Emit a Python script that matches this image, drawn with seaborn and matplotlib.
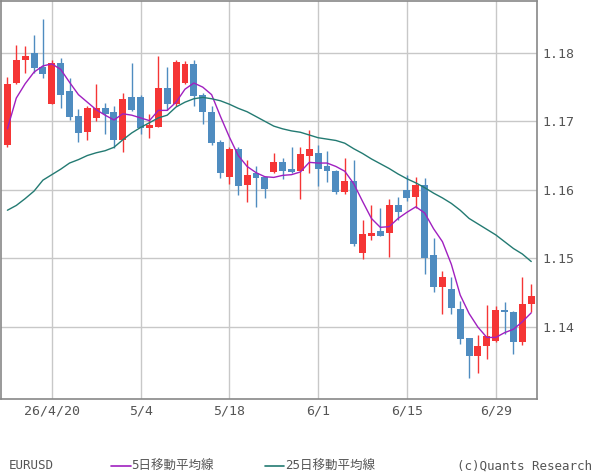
import numpy as np
import pandas as pd
import matplotlib
matplotlib.use('Agg')
import matplotlib.pyplot as plt
import seaborn as sns
from matplotlib.lines import Line2D

# EURUSD daily candles
dates = pd.bdate_range('2026-04-13', periods=60)
opens = [1.1665, 1.1756, 1.1789, 1.1800, 1.1780, 1.1726, 1.1786, 1.1744, 1.1708, 1.1685,
         1.1705, 1.1720, 1.1713, 1.1672, 1.1735, 1.1736, 1.1690, 1.1692, 1.1749, 1.1726,
         1.1756, 1.1784, 1.1739, 1.1714, 1.1670, 1.1618, 1.1659, 1.1607, 1.1624, 1.1618,
         1.1626, 1.1640, 1.1630, 1.1627, 1.1650, 1.1654, 1.1634, 1.1628, 1.1596, 1.1613,
         1.1507, 1.1532, 1.1539, 1.1537, 1.1578, 1.1600, 1.1589, 1.1607, 1.1504, 1.1458,
         1.1455, 1.1426, 1.1383, 1.1357, 1.1372, 1.1379, 1.1424, 1.1421, 1.1377, 1.1433]
highs = [1.1765, 1.1811, 1.1810, 1.1826, 1.1850, 1.1790, 1.1792, 1.1763, 1.1718, 1.1722,
         1.1755, 1.1727, 1.1722, 1.1741, 1.1786, 1.1739, 1.1711, 1.1796, 1.1779, 1.1789,
         1.1788, 1.1789, 1.1742, 1.1722, 1.1672, 1.1662, 1.1662, 1.1644, 1.1635, 1.1619,
         1.1653, 1.1646, 1.1662, 1.1662, 1.1687, 1.1665, 1.1656, 1.1629, 1.1646, 1.1644,
         1.1555, 1.1578, 1.1573, 1.1587, 1.1590, 1.1622, 1.1619, 1.1617, 1.1529, 1.1481,
         1.1473, 1.1438, 1.1383, 1.1387, 1.1431, 1.1430, 1.1436, 1.1422, 1.1472, 1.1462]
lows = [1.1663, 1.1754, 1.1771, 1.1770, 1.1764, 1.1725, 1.1720, 1.1702, 1.1670, 1.1672,
        1.1700, 1.1681, 1.1661, 1.1655, 1.1715, 1.1681, 1.1675, 1.1691, 1.1717, 1.1723,
        1.1755, 1.1722, 1.1696, 1.1665, 1.1617, 1.1608, 1.1592, 1.1582, 1.1575, 1.1588,
        1.1625, 1.1615, 1.1625, 1.1586, 1.1624, 1.1605, 1.1612, 1.1594, 1.1594, 1.1518,
        1.1499, 1.1526, 1.1532, 1.1502, 1.1556, 1.1583, 1.1573, 1.1477, 1.1450, 1.1418,
        1.1418, 1.1375, 1.1324, 1.1332, 1.1353, 1.1378, 1.1389, 1.1360, 1.1373, 1.1421]
closes = [1.1755, 1.1790, 1.1796, 1.1778, 1.1769, 1.1786, 1.1738, 1.1707, 1.1683, 1.1720,
          1.1719, 1.1710, 1.1672, 1.1733, 1.1716, 1.1690, 1.1694, 1.1749, 1.1726, 1.1787,
          1.1784, 1.1737, 1.1713, 1.1668, 1.1624, 1.1659, 1.1605, 1.1622, 1.1617, 1.1601,
          1.1640, 1.1627, 1.1626, 1.1652, 1.1660, 1.1631, 1.1627, 1.1596, 1.1613, 1.1521,
          1.1535, 1.1536, 1.1533, 1.1577, 1.1567, 1.1588, 1.1607, 1.1500, 1.1458, 1.1473,
          1.1427, 1.1382, 1.1357, 1.1371, 1.1386, 1.1424, 1.1421, 1.1377, 1.1433, 1.1444]

# moving averages as drawn
ma5 = [1.1689, 1.1734, 1.1755, 1.1772, 1.1781, 1.1784, 1.1776, 1.1757, 1.1739, 1.1728,
       1.1717, 1.1709, 1.1702, 1.1711, 1.1709, 1.1705, 1.1701, 1.1716, 1.1716, 1.1728,
       1.1747, 1.1756, 1.1750, 1.1739, 1.1707, 1.1677, 1.1650, 1.1634, 1.1625, 1.1619,
       1.1618, 1.1621, 1.1622, 1.1626, 1.1640, 1.1639, 1.1639, 1.1634, 1.1627, 1.1609,
       1.1583, 1.1558, 1.1545, 1.1546, 1.1558, 1.1567, 1.1575, 1.1566, 1.1543, 1.1524,
       1.1491, 1.1446, 1.1419, 1.1399, 1.1384, 1.1384, 1.1391, 1.1396, 1.1407, 1.1420]
ma25 = [1.1570, 1.1577, 1.1587, 1.1598, 1.1614, 1.1622, 1.1630, 1.1639, 1.1644, 1.1650,
        1.1654, 1.1657, 1.1662, 1.1673, 1.1683, 1.1691, 1.1698, 1.1705, 1.1709, 1.1721,
        1.1728, 1.1733, 1.1735, 1.1733, 1.1730, 1.1725, 1.1719, 1.1714, 1.1707, 1.1700,
        1.1693, 1.1689, 1.1686, 1.1684, 1.1680, 1.1676, 1.1674, 1.1672, 1.1668, 1.1660,
        1.1653, 1.1645, 1.1638, 1.1631, 1.1623, 1.1616, 1.1610, 1.1603, 1.1595, 1.1588,
        1.1580, 1.1570, 1.1558, 1.1550, 1.1542, 1.1534, 1.1524, 1.1514, 1.1506, 1.1495]

tick_dates = ['2026-04-20', '2026-05-04', '2026-05-18', '2026-06-01', '2026-06-15', '2026-06-29']
tick_labels = ['26/4/20', '5/4', '5/18', '6/1', '6/15', '6/29']
y_ticks = [1.14, 1.15, 1.16, 1.17, 1.18]

df = pd.DataFrame({'date': dates, 'open': opens, 'high': highs, 'low': lows,
                   'close': closes, 'ma5': ma5, 'ma25': ma25})
df['i'] = np.arange(len(df))

UP = '#f53535'
DOWN = '#4f8cc0'
PURPLE = '#a020c0'
TEAL = '#237a72'
GRID = '#c8c8c8'
TXT = '#555555'

sns.set_style('white')
plt.rcParams['font.family'] = ['DejaVu Sans Mono', 'Noto Sans CJK JP']

fig = plt.figure(figsize=(6, 4.75), dpi=100)
ax = fig.add_axes([0.002, 0.16, 0.893, 0.838])

colors = np.where(df['close'] >= df['open'], UP, DOWN)
body_lo = np.minimum(df['open'], df['close'])
body_h = np.maximum(np.abs(df['close'] - df['open']), 0.00008)

ax.vlines(df['i'], df['low'], df['high'], colors=colors, lw=1, zorder=3)
ax.bar(df['i'], body_h, bottom=body_lo, width=0.78, color=colors, zorder=4, linewidth=0)

sns.lineplot(data=df, x='i', y='ma5', color=PURPLE, lw=1, ax=ax, zorder=5)
sns.lineplot(data=df, x='i', y='ma25', color=TEAL, lw=1, ax=ax, zorder=5)

tick_pos = [int(np.where(df['date'] == pd.Timestamp(d))[0][0]) for d in tick_dates]
ax.set_xticks(tick_pos)
ax.set_xticklabels(tick_labels)
ax.set_yticks(y_ticks)
ax.set_yticklabels([f'{v:.2f}' for v in y_ticks])
ax.yaxis.tick_right()
ax.set_xlim(-0.7, 59.65)
ax.set_ylim(1.1294, 1.1876)
ax.set_xlabel('')
ax.set_ylabel('')

ax.grid(True, color=GRID, lw=1, zorder=0)
ax.set_axisbelow(True)
ax.tick_params(axis='both', colors=TXT, labelsize=9.5, length=0, pad=4)
for s in ax.spines.values():
    s.set_color('#888888')
    s.set_linewidth(1.2)

# bottom legend row
ly = 0.019
fig.text(0.015, ly, 'EURUSD', color=TXT, fontsize=9, va='center')
fig.add_artist(Line2D([0.185, 0.218], [ly, ly], color=PURPLE, lw=1.2))
fig.text(0.219, ly, '5日移動平均線', color=TXT, fontsize=9, va='center')
fig.add_artist(Line2D([0.441, 0.474], [ly, ly], color=TEAL, lw=1.2))
fig.text(0.475, ly, '25日移動平均線', color=TXT, fontsize=9, va='center')
fig.text(0.987, ly, '(c)Quants Research', color=TXT, fontsize=9, va='center', ha='right')

fig.savefig('out.png', dpi=100)
